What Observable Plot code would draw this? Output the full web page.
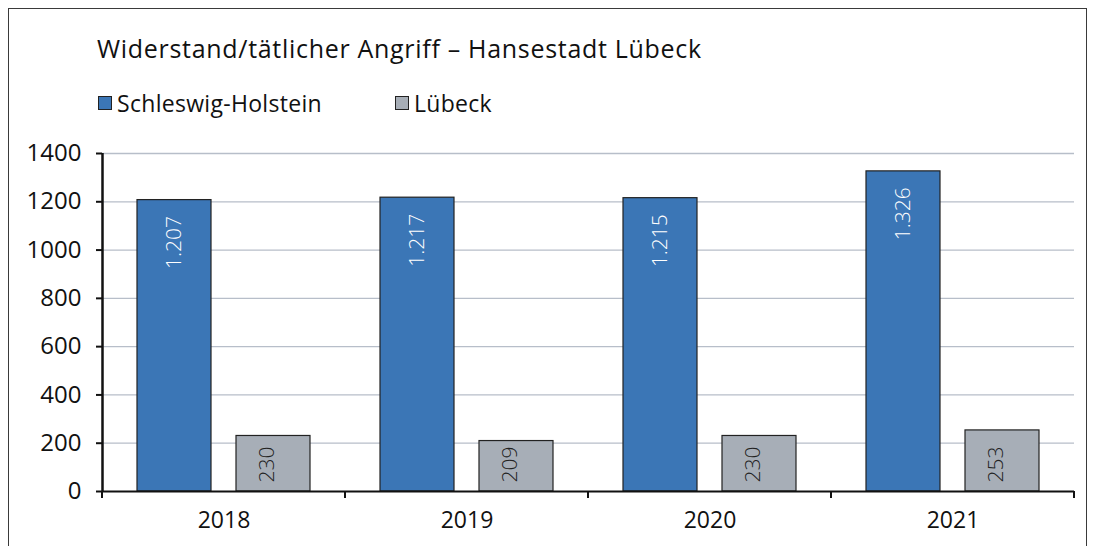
<!DOCTYPE html>
<html>
<head>
<meta charset="utf-8">
<script src="https://cdn.jsdelivr.net/npm/d3@7"></script>
<script src="https://cdn.jsdelivr.net/npm/@observablehq/plot@0.6"></script>
<style>
  html, body { margin: 0; padding: 0; background: #fff; overflow: hidden; }
  body { width: 1096px; height: 546px; position: relative; font-family: "Open Sans", "Noto Sans", sans-serif; color: #111; }
  #frame { position: absolute; left: 8px; top: 8px; width: 1079px; height: 600px; border: 1px solid #3a3a3a; box-sizing: border-box; }
  #title { position: absolute; left: 97px; top: 32px; font-size: 25px; letter-spacing: 0.7px; line-height: 32px; white-space: nowrap; }
  .item { position: absolute; top: 88px; font-size: 23px; letter-spacing: 0.3px; line-height: 30px; display: flex; align-items: center; white-space: nowrap; }
  .sw { width: 12px; height: 12px; border: 1px solid #222; margin-right: 5px; }
  #chart { position: absolute; left: 0; top: 130px; }
</style>
</head>
<body>
<div id="frame"></div>
<div id="title">Widerstand/tätlicher Angriff – Hansestadt Lübeck</div>
<div id="legend"></div>
<div id="chart"></div>
<script>
const years = ["2018", "2019", "2020", "2021"];
const seriesNames = ["Schleswig-Holstein", "Lübeck"];
const shValues = [1207, 1217, 1215, 1326];
const luebeckValues = [230, 209, 230, 253];
const yTicks = [0, 200, 400, 600, 800, 1000, 1200, 1400];
const colors = ["#3b76b6", "#a7aeb7"];
const labelColors = ["#ffffff", "#222222"];
const legendLeft = [98, 395];

const data = [];
years.forEach((yr, i) => {
  data.push({year: yr, series: seriesNames[0], value: shValues[i]});
  data.push({year: yr, series: seriesNames[1], value: luebeckValues[i]});
});
const shData = data.filter(d => d.series === seriesNames[0]);
const lbData = data.filter(d => d.series === seriesNames[1]);

// legend
const legend = document.getElementById("legend");
seriesNames.forEach((s, i) => {
  const it = document.createElement("div");
  it.className = "item";
  it.style.left = legendLeft[i] + "px";
  const sw = document.createElement("div");
  sw.className = "sw";
  sw.style.background = colors[i];
  const t = document.createElement("span");
  t.textContent = s;
  it.appendChild(sw); it.appendChild(t);
  legend.appendChild(it);
});

const fmt = v => v.toLocaleString("de-DE");

const chart = Plot.plot({
  width: 1096,
  height: 416,
  marginTop: 23,
  marginBottom: 55,
  marginLeft: 101,
  marginRight: 21,
  style: {fontFamily: "'Open Sans', 'Noto Sans', sans-serif", fontSize: "22px", color: "#111", background: "transparent"},
  fx: {domain: years, padding: 0, label: null},
  x: {domain: seriesNames, axis: null, paddingInner: 0.25, paddingOuter: 0.3425},
  y: {domain: [0, 1400], ticks: yTicks, label: null},
  color: {domain: seriesNames, range: colors},
  marks: [
    Plot.gridY(yTicks.filter(d => d > 0), {stroke: "#b7bec9", strokeOpacity: 1, strokeWidth: 1.3}),
    Plot.axisY(yTicks, {tickSize: 6, tickPadding: 15, label: null, tickFormat: d => String(d), stroke: "#111", strokeWidth: 2, fontSize: 24}),
    Plot.axisFx({anchor: "bottom", tickSize: 0, tickPadding: 20, label: null, fontSize: 23}),
    Plot.barY(data, {fx: "year", x: "series", y: "value", fill: "series", stroke: "#222", strokeWidth: 1.2}),
    Plot.text(shData, {
      fx: "year", x: "series", y: "value",
      text: d => fmt(d.value),
      rotate: -90, textAnchor: "end", dy: 16,
      fill: labelColors[0],
      fontSize: 21, fontWeight: 300
    }),
    Plot.text(lbData, {
      fx: "year", x: "series", frameAnchor: "bottom",
      text: d => fmt(d.value),
      rotate: -90, textAnchor: "start", dy: -9,
      fill: labelColors[1],
      fontSize: 21, fontWeight: 300
    }),
    Plot.ruleY([0], {stroke: "#111", strokeWidth: 2})
  ]
});
document.getElementById("chart").appendChild(chart);

// axis line and category boundary ticks from the library scales
const fx = chart.scale("fx");
const ys = chart.scale("y");
const svg = d3.select(chart);
const y0 = ys.apply(0), yTop = ys.apply(1400);
const x0 = fx.apply(years[0]);
svg.append("line").attr("x1", x0 + 0.5).attr("x2", x0 + 0.5).attr("y1", y0 + 1).attr("y2", yTop)
  .attr("stroke", "#111").attr("stroke-width", 2.5);
const bounds = years.map(y => fx.apply(y)).concat([fx.apply(years[years.length - 1]) + fx.bandwidth]);
bounds.forEach(b => {
  svg.append("line").attr("x1", b).attr("x2", b).attr("y1", y0).attr("y2", y0 + 7)
    .attr("stroke", "#111").attr("stroke-width", 2);
});
</script>
</body>
</html>
